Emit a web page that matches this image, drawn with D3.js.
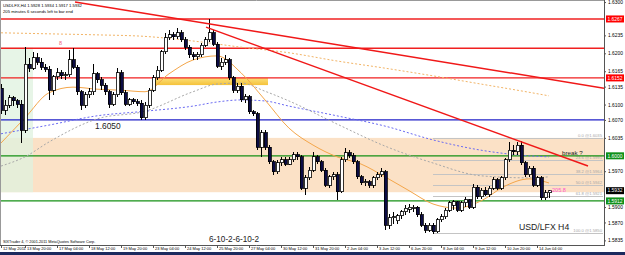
<!DOCTYPE html>
<html lang="en">
<head>
<meta charset="UTF-8">
<title>USDLFX,H4</title>
<style>
  body { margin: 0; background: #fff; }
  svg { display: block; font-family: "Liberation Sans", Arial, sans-serif; }
</style>
</head>
<body>
<svg width="625" height="255"></svg>

<script src="https://d3js.org/d3.v7.min.js"></script>
<script>
// H4 candles, 12 May 2011 20:00 .. 14 Jun 2011 16:00
const opens = [
  1.6132,1.6089,1.6099,1.6113,1.6107,1.6101,1.6050,1.6179,1.6171,1.6191,
  1.6183,1.6173,1.6169,1.6128,1.6154,1.6162,1.6156,1.6158,1.6187,1.6173,
  1.6125,1.6099,1.6119,1.6125,1.6160,1.6148,1.6138,1.6125,1.6101,1.6119,
  1.6162,1.6123,1.6101,1.6109,1.6105,1.6103,1.6074,1.6099,1.6128,1.6152,
  1.6167,1.6203,1.6230,1.6236,1.6232,1.6240,1.6226,1.6212,1.6197,1.6193,
  1.6197,1.6216,1.6226,1.6240,1.6218,1.6175,1.6183,1.6187,1.6152,1.6128,
  1.6136,1.6109,1.6115,1.6086,1.6082,1.6017,1.6045,1.6017,1.5988,1.5969,
  1.5986,1.5992,1.5984,1.5992,1.6002,1.5998,1.5937,1.5957,1.5972,1.5998,
  1.5988,1.5972,1.5943,1.5959,1.5963,1.5930,1.5992,1.6006,1.6000,1.5988,
  1.5959,1.5947,1.5949,1.5943,1.5957,1.5963,1.5969,1.5865,1.5879,1.5873,
  1.5883,1.5891,1.5896,1.5898,1.5900,1.5885,1.5865,1.5855,1.5865,1.5852,
  1.5875,1.5881,1.5894,1.5904,1.5910,1.5894,1.5908,1.5914,1.5900,1.5939,
  1.5920,1.5933,1.5924,1.5937,1.5953,1.5937,1.5957,1.5992,1.6011,1.6008,
  1.6021,1.5986,1.5963,1.5976,1.5943,1.5957,1.5918,1.5928
];
const highs = [
  1.6140,1.6109,1.6119,1.6117,1.6111,1.6109,1.6212,1.6191,1.6203,1.6201,
  1.6191,1.6179,1.6175,1.6158,1.6171,1.6167,1.6164,1.6206,1.6210,1.6177,
  1.6128,1.6125,1.6132,1.6179,1.6164,1.6154,1.6142,1.6128,1.6125,1.6171,
  1.6167,1.6128,1.6113,1.6113,1.6111,1.6109,1.6105,1.6132,1.6158,1.6175,
  1.6206,1.6240,1.6245,1.6242,1.6249,1.6245,1.6232,1.6216,1.6203,1.6203,
  1.6220,1.6232,1.6267,1.6245,1.6222,1.6191,1.6197,1.6191,1.6156,1.6142,
  1.6142,1.6121,1.6119,1.6089,1.6086,1.6050,1.6050,1.6021,1.5992,1.5992,
  1.5998,1.5998,1.5998,1.6008,1.6008,1.6002,1.5963,1.5978,1.6008,1.6002,
  1.5992,1.5976,1.5963,1.5969,1.5969,1.5998,1.6015,1.6011,1.6006,1.5992,
  1.5963,1.5955,1.5953,1.5961,1.5969,1.5976,1.5972,1.5887,1.5891,1.5887,
  1.5894,1.5904,1.5906,1.5904,1.5902,1.5891,1.5869,1.5869,1.5869,1.5879,
  1.5887,1.5898,1.5912,1.5914,1.5912,1.5912,1.5920,1.5916,1.5945,1.5943,
  1.5937,1.5939,1.5941,1.5959,1.5957,1.5961,1.5996,1.6027,1.6021,1.6027,
  1.6029,1.5990,1.5980,1.5980,1.5961,1.5961,1.5933,1.5934
];
const lows = [
  1.6082,1.6080,1.6093,1.6097,1.6093,1.6025,1.6045,1.6164,1.6167,1.6177,
  1.6167,1.6164,1.6109,1.6119,1.6148,1.6150,1.6148,1.6154,1.6169,1.6119,
  1.6089,1.6093,1.6113,1.6119,1.6142,1.6128,1.6119,1.6093,1.6097,1.6115,
  1.6119,1.6097,1.6097,1.6101,1.6097,1.6070,1.6070,1.6093,1.6125,1.6148,
  1.6164,1.6199,1.6226,1.6226,1.6228,1.6222,1.6206,1.6191,1.6187,1.6187,
  1.6193,1.6212,1.6222,1.6214,1.6171,1.6167,1.6177,1.6148,1.6123,1.6123,
  1.6105,1.6103,1.6082,1.6078,1.6011,1.5998,1.6011,1.5984,1.5963,1.5965,
  1.5980,1.5980,1.5982,1.5988,1.5992,1.5933,1.5924,1.5953,1.5969,1.5984,
  1.5969,1.5939,1.5937,1.5953,1.5914,1.5928,1.5988,1.5996,1.5984,1.5955,
  1.5943,1.5941,1.5937,1.5937,1.5953,1.5959,1.5855,1.5857,1.5867,1.5867,
  1.5877,1.5885,1.5889,1.5891,1.5881,1.5861,1.5850,1.5852,1.5848,1.5850,
  1.5871,1.5877,1.5891,1.5894,1.5891,1.5891,1.5900,1.5896,1.5896,1.5916,
  1.5916,1.5922,1.5920,1.5933,1.5933,1.5933,1.5953,1.5988,1.6002,1.6002,
  1.5982,1.5959,1.5959,1.5939,1.5939,1.5914,1.5914,1.5917
];
const closes = [
  1.6089,1.6099,1.6113,1.6107,1.6101,1.6050,1.6179,1.6171,1.6191,1.6183,
  1.6173,1.6169,1.6128,1.6154,1.6162,1.6156,1.6158,1.6187,1.6173,1.6125,
  1.6099,1.6119,1.6125,1.6160,1.6148,1.6138,1.6125,1.6101,1.6119,1.6162,
  1.6123,1.6101,1.6109,1.6105,1.6103,1.6074,1.6099,1.6128,1.6152,1.6167,
  1.6203,1.6230,1.6236,1.6232,1.6240,1.6226,1.6212,1.6197,1.6193,1.6197,
  1.6216,1.6226,1.6240,1.6218,1.6175,1.6183,1.6187,1.6152,1.6128,1.6136,
  1.6109,1.6115,1.6086,1.6082,1.6017,1.6045,1.6017,1.5988,1.5969,1.5986,
  1.5992,1.5984,1.5992,1.6002,1.5998,1.5937,1.5957,1.5972,1.5998,1.5988,
  1.5972,1.5943,1.5959,1.5963,1.5930,1.5992,1.6006,1.6000,1.5988,1.5959,
  1.5947,1.5949,1.5943,1.5957,1.5963,1.5969,1.5865,1.5879,1.5881,1.5883,
  1.5891,1.5898,1.5900,1.5900,1.5885,1.5865,1.5855,1.5865,1.5852,1.5875,
  1.5881,1.5894,1.5908,1.5910,1.5894,1.5908,1.5914,1.5900,1.5939,1.5920,
  1.5933,1.5924,1.5937,1.5953,1.5937,1.5957,1.5992,1.6011,1.6008,1.6021,
  1.5986,1.5963,1.5976,1.5943,1.5957,1.5918,1.5928,1.5932
];

// moving averages, read at [bar index, price]
const maFast = [[0,1.6025],[6,1.6074],[12,1.6123],[18,1.6134],[24,1.6130],[30,1.6128],[36,1.6125],
  [42,1.6160],[48,1.6187],[54,1.6195],[60,1.6162],[66,1.6109],[72,1.6054],[78,1.6021],[84,1.5998],
  [90,1.5984],[96,1.5959],[102,1.5932],[108,1.5906],[114,1.5898],[120,1.5912],[126,1.5941],[132,1.5955],[137,1.5947]];
const maSlow = [[0,1.6240],[12,1.6238],[24,1.6236],[36,1.6233],[48,1.6224],[60,1.6212],[72,1.6201],
  [84,1.6185],[96,1.6171],[108,1.6156],[120,1.6140],[132,1.6124],[137,1.6117]];
const maBlue = [[0,1.6043],[12,1.6060],[24,1.6078],[36,1.6087],[48,1.6097],[54,1.6105],[60,1.6109],
  [66,1.6107],[72,1.6097],[84,1.6078],[96,1.6058],[108,1.6031],[120,1.6011],[132,1.6000],[137,1.5998]];
const maGray = [[0,1.5980],[6,1.5998],[12,1.6027],[24,1.6072],[36,1.6087],[48,1.6125],[54,1.6140],
  [60,1.6142],[66,1.6126],[72,1.6107],[84,1.6062],[96,1.6019],[108,1.5986],[120,1.5961],[132,1.5957],[137,1.5959]];

const timeLabels = ['12 May 2011','13 May 20:00','17 May 04:00','18 May 12:00','19 May 20:00','23 May 04:00',
  '24 May 12:00','25 May 20:00','27 May 04:00','30 May 12:00','31 May 20:00','2 Jun 04:00','3 Jun 12:00',
  '6 Jun 20:00','8 Jun 04:00','9 Jun 12:00','10 Jun 20:00','14 Jun 04:00'];
const priceTicks = [1.6300,1.6235,1.6200,1.6165,1.6135,1.6100,1.6070,1.6035,1.5970,1.5900,1.5870,1.5835];
const priceRange = [1.5826, 1.6304];

// drawn objects
const redLevels = [1.6267, 1.6210, 1.6152];
const redLabelled = [1.6267, 1.6152];
const blueLevels = [1.6070];
const greenLevels = [1.6000, 1.5912];
const fibRatios = [0, 23.6, 38.2, 50, 61.8, 100];
const fibHigh = 1.6035, fibLow = 1.5850, fibStartBar = 108;
const trendLines = [
  [[18.5, 1.6300], [150.75, 1.6132]],
  [[51.25, 1.6251], [146.75, 1.5980]]
];
const peachZone = [[-1, 1.6035], [151, 1.5929]];
const greenZone = [[-1, 1.6211], [8, 1.5929]];
const goldZone = [[37.75, 1.6152], [66.75, 1.6138]];
const notes = [
  { text: '1.6050', bar: 23.5, price: 1.6052 },
  { text: 'USD/LFX H4', bar: 129.5, price: 1.5856 },
  { text: '6-10-2-6-10-2', bar: 52, price: 1.5832 },
  { text: 'break ?', bar: 140.25, price: 1.6002 }
];
const smallNotes = [
  { text: '8', bar: 14.5, price: 1.6216, color: '#f06080' },
  { text: '-205.8', bar: 137.3, price: 1.5929, color: '#ff55cc' }
];

const width = 625, height = 255;
const plotRight = 604, plotBottom = 245;

const svg = d3.select('svg');

const x = d3.scaleLinear().domain([0, 137]).range([1, 549]);
const y = d3.scaleLinear().domain(priceRange).range([plotBottom, 0]);

// bar times (H4, weekdays only)
const barTimes = [];
let t = new Date(Date.UTC(2011, 4, 12, 20));
while (barTimes.length < closes.length) {
  const wd = t.getUTCDay();
  if (wd !== 0 && wd !== 6) barTimes.push(t);
  t = d3.utcHour.offset(t, 4);
}
const fmt = d3.utcFormat('%-d %b %H:%M');
const labelBars = timeLabels.map((s, k) => k === 0 ? 0 : barTimes.findIndex(d => fmt(d) === s));

const defs = svg.append('defs');
defs.append('clipPath').attr('id', 'plot')
  .append('rect').attr('x', 1).attr('y', 1).attr('width', plotRight - 1).attr('height', plotBottom - 1);
const grad = defs.append('linearGradient').attr('id', 'gold').attr('x1', 0).attr('x2', 0).attr('y1', 0).attr('y2', 1);
grad.append('stop').attr('offset', '0%').attr('stop-color', '#fbe07a');
grad.append('stop').attr('offset', '100%').attr('stop-color', '#f5c23a');

svg.append('rect').attr('width', width).attr('height', height).attr('fill', '#fff');

const g = svg.append('g').attr('clip-path', 'url(#plot)');

// zones
function zone(z, fill, op) {
  g.append('rect')
    .attr('x', x(z[0][0])).attr('y', y(z[0][1]))
    .attr('width', x(z[1][0]) - x(z[0][0]))
    .attr('height', y(z[1][1]) - y(z[0][1]))
    .attr('fill', fill).attr('opacity', op);
}
zone(peachZone, '#fbe1c6', 1);
zone(greenZone, '#dff2df', 0.75);
zone(goldZone, 'url(#gold)', 1);

// fibonacci
const fibLevels = fibRatios.map(r => fibHigh - r / 100 * (fibHigh - fibLow));
g.selectAll('.fib').data(fibLevels).join('line')
  .attr('x1', x(fibStartBar)).attr('x2', plotRight - 1)
  .attr('y1', d => Math.round(y(d)) + 0.5).attr('y2', d => Math.round(y(d)) + 0.5)
  .attr('stroke', '#c4c4c4').attr('stroke-width', 1);
g.selectAll('.fibtxt').data(fibLevels).join('text')
  .attr('x', plotRight - 2).attr('y', d => y(d) - 1)
  .attr('text-anchor', 'end').attr('font-size', 4.2).attr('fill', '#a8a8a8')
  .text((d, i) => fibRatios[i].toFixed(1) + ' @' + d.toFixed(4));

// horizontal levels
function hlines(levels, color, w) {
  g.selectAll(null).data(levels).join('line')
    .attr('x1', 0).attr('x2', plotRight)
    .attr('y1', d => y(d)).attr('y2', d => y(d))
    .attr('stroke', color).attr('stroke-width', w);
}
hlines(redLevels, '#f02020', 1.4);
hlines(blueLevels, '#2020c8', 1.3);
hlines(greenLevels, '#159015', 1.3);

// moving averages
const line = d3.line().x(d => x(d[0])).y(d => y(d[1])).curve(d3.curveMonotoneX);
g.append('path').attr('d', line(maSlow)).attr('fill', 'none')
  .attr('stroke', '#f2b466').attr('stroke-width', 1).attr('stroke-dasharray', '2,2');
g.append('path').attr('d', line(maBlue)).attr('fill', 'none')
  .attr('stroke', '#6a6af2').attr('stroke-width', 1).attr('stroke-dasharray', '2,2');
g.append('path').attr('d', line(maGray)).attr('fill', 'none')
  .attr('stroke', '#a8a8a8').attr('stroke-width', 1).attr('stroke-dasharray', '2,2');
g.append('path').attr('d', line(maFast)).attr('fill', 'none')
  .attr('stroke', '#f4a64a').attr('stroke-width', 1);

// candles
const bars = closes.map((c, i) => ({ i, o: opens[i], h: highs[i], l: lows[i], c }));
const cg = g.append('g').attr('shape-rendering', 'crispEdges');
cg.selectAll('.wick').data(bars).join('line')
  .attr('x1', d => Math.round(x(d.i)) + 0.5).attr('x2', d => Math.round(x(d.i)) + 0.5)
  .attr('y1', d => y(d.h)).attr('y2', d => y(d.l))
  .attr('stroke', '#000').attr('stroke-width', 1);
cg.selectAll('.body').data(bars).join('rect')
  .attr('x', d => Math.round(x(d.i)) - 1)
  .attr('y', d => y(Math.max(d.o, d.c)))
  .attr('width', 3)
  .attr('height', d => Math.max(1, Math.abs(y(d.o) - y(d.c))))
  .attr('fill', d => d.c >= d.o ? '#fff' : '#0c0c44')
  .attr('stroke', '#000').attr('stroke-width', 0.8);

// trend lines
g.selectAll('.trend').data(trendLines).join('line')
  .attr('x1', d => x(d[0][0])).attr('y1', d => y(d[0][1]))
  .attr('x2', d => x(d[1][0])).attr('y2', d => y(d[1][1]))
  .attr('stroke', '#f01818').attr('stroke-width', 1.5);

// text objects
g.selectAll('.note').data(notes).join('text')
  .attr('x', d => x(d.bar)).attr('y', d => y(d.price))
  .attr('font-size', (d, i) => [8.4, 8.7, 8.2, 6.2][i])
  .attr('fill', '#222')
  .text(d => d.text);
g.selectAll('.snote').data(smallNotes).join('text')
  .attr('x', d => x(d.bar)).attr('y', d => y(d.price))
  .attr('font-size', 5.5).attr('fill', d => d.color)
  .text(d => d.text);

// header + footer
const last = closes.length - 1;
svg.append('text').attr('x', 3).attr('y', 7).attr('font-size', 4.2).attr('fill', '#000')
  .text('USDLFX,H4  ' + [opens[last], highs[last], lows[last], closes[last]].map(v => v.toFixed(4)).join(' '));
svg.append('text').attr('x', 3).attr('y', 12.5).attr('font-size', 4.2).attr('fill', '#000')
  .text('205 minutes 6 seconds left to bar end');
svg.append('text').attr('x', 3).attr('y', 243).attr('font-size', 3.8).attr('fill', '#000')
  .text('SIXTrader 4, \u00a9 2001-2011 MetaQuotes Software Corp.');

// frame
svg.append('line').attr('x1', 0.5).attr('x2', 0.5).attr('y1', 0).attr('y2', plotBottom).attr('stroke', '#999');
svg.append('line').attr('x1', 0).attr('x2', plotRight).attr('y1', 0.5).attr('y2', 0.5).attr('stroke', '#999');
svg.append('line').attr('x1', plotRight + 0.5).attr('x2', plotRight + 0.5).attr('y1', 0).attr('y2', plotBottom + 1).attr('stroke', '#555');
svg.append('line').attr('x1', 0).attr('x2', plotRight + 1).attr('y1', plotBottom + 0.5).attr('y2', plotBottom + 0.5).attr('stroke', '#555');

// price axis
const yAxis = d3.axisRight(y).tickValues(priceTicks).tickSize(2).tickFormat(d3.format('.4f'));
svg.append('g').attr('transform', `translate(${plotRight},0)`).call(yAxis)
  .call(a => a.select('.domain').remove())
  .call(a => a.selectAll('line').attr('stroke', '#555'))
  .call(a => a.selectAll('text').attr('x', 4).attr('font-size', 4.9).attr('fill', '#000')
    .attr('font-family', '"Liberation Sans", Arial, sans-serif'));

// price boxes
const boxes = [
  ...redLabelled.map(v => ({ v, fill: '#ff0000' })),
  ...greenLevels.map(v => ({ v, fill: '#10901a' })),
  { v: closes[last], fill: '#000' }
];
const bg = svg.append('g');
bg.selectAll('rect').data(boxes).join('rect')
  .attr('x', plotRight + 2).attr('y', d => y(d.v) - 3.5)
  .attr('width', 18).attr('height', 7).attr('fill', d => d.fill);
bg.selectAll('text').data(boxes).join('text')
  .attr('x', plotRight + 3.5).attr('y', d => y(d.v) + 1.8)
  .attr('font-size', 4.9).attr('fill', '#fff')
  .text(d => d.v.toFixed(4));

// time axis
const xAxis = d3.axisBottom(x).tickValues(labelBars).tickSize(3).tickFormat((d, i) => timeLabels[i]);
svg.append('g').attr('transform', `translate(0,${plotBottom})`).call(xAxis)
  .call(a => a.select('.domain').remove())
  .call(a => a.selectAll('line').attr('stroke', '#555'))
  .call(a => a.selectAll('text').attr('text-anchor', 'start').attr('dx', 1.5)
    .attr('y', 5).attr('dy', 0).attr('font-size', 4).attr('fill', '#000')
    .attr('font-family', '"Liberation Sans", Arial, sans-serif'));

// bottom strip
svg.append('rect').attr('x', 0).attr('y', 252).attr('width', width).attr('height', 3).attr('fill', '#1c2a5e');
</script>
</body>
</html>
